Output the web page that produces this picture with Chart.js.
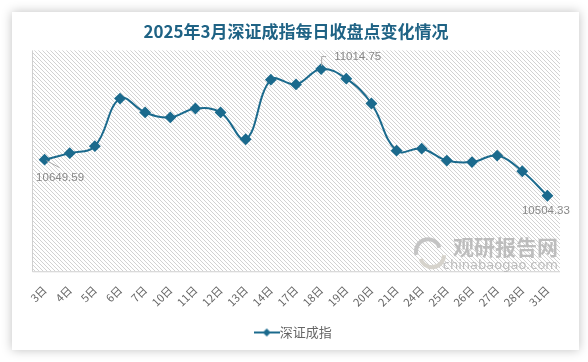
<!DOCTYPE html>
<html>
<head>
<meta charset="utf-8">
<script src="https://cdn.jsdelivr.net/npm/chart.js@4.4.1/dist/chart.umd.min.js"></script>
<style>
html, body { margin: 0; padding: 0; background: #fff; }
#card { position: absolute; left: 12px; top: 12px; width: 567px; height: 338px; background: #fff; box-shadow: 0 0 10px rgba(0,0,0,0.25); }
#wrap { position: absolute; left: 0; top: 0; width: 588px; height: 362px; }
</style>
</head>
<body>
<div id="card"></div>
<div id="wrap"><canvas id="c" width="588" height="362"></canvas></div>
<script>
// days of March 2025 (trading days)
const days = ['3日','4日','5日','6日','7日','10日','11日','12日','13日','14日','17日','18日','19日','20日','21日','24日','25日','26日','27日','28日','31日'];
// closing points
const closes = [10649.59, 10676, 10704, 10896, 10840, 10820, 10856, 10840, 10732, 10972, 10953, 11014.75, 10976, 10876, 10686, 10694, 10646, 10640, 10666, 10603, 10504.33];
const seriesName = '深证成指';
const titleText = '2025年3月深证成指每日收盘点变化情况';

const lineColor = '#1b6a8d';
const fontFam = '"Noto Sans CJK SC", "Liberation Sans", sans-serif';

// hatch pattern for the plot background
function makeHatch() {
  const p = document.createElement('canvas');
  p.width = 4; p.height = 4;
  const g = p.getContext('2d');
  g.fillStyle = '#d2d2d2';
  for (let i = 0; i < 4; i++) g.fillRect(i, i, 1, 1);
  return p;
}

// legend icon: short line with a diamond
function makeLegendIcon() {
  const p = document.createElement('canvas');
  p.width = 26; p.height = 10;
  const g = p.getContext('2d');
  g.strokeStyle = lineColor; g.lineWidth = 2;
  g.beginPath(); g.moveTo(0, 5); g.lineTo(26, 5); g.stroke();
  g.fillStyle = lineColor;
  g.beginPath(); g.moveTo(13, 1); g.lineTo(17, 5); g.lineTo(13, 9); g.lineTo(9, 5); g.closePath(); g.fill();
  return p;
}

const plotBg = {
  id: 'plotBg',
  beforeDatasetsDraw(chart) {
    const { ctx, chartArea: a } = chart;
    ctx.save();
    ctx.fillStyle = ctx.createPattern(makeHatch(), 'repeat');
    ctx.fillRect(a.left, a.top, a.right - a.left, a.bottom - a.top);
    ctx.strokeStyle = '#cfcfcf'; ctx.lineWidth = 1;
    ctx.beginPath();
    ctx.moveTo(a.left + 0.5, a.top); ctx.lineTo(a.left + 0.5, a.bottom + 0.5);
    ctx.lineTo(a.right, a.bottom + 0.5);
    ctx.stroke();

    // watermark
    const wx = a.right - 2, wy = a.bottom;
    ctx.fillStyle = '#bdbdbd';
    ctx.font = 'bold 21px ' + fontFam;
    ctx.textAlign = 'right'; ctx.textBaseline = 'middle';
    ctx.fillText('观研报告网', wx, wy - 24);
    ctx.font = '13px "DejaVu Sans", sans-serif';
    ctx.fillText('chinabaogao.com', wx, wy - 6);
    ctx.strokeStyle = '#c4c4c4'; ctx.lineWidth = 4;
    ctx.beginPath(); ctx.arc(wx - 130, wy - 20, 12, Math.PI * 0.9, Math.PI * 1.9); ctx.stroke();
    ctx.strokeStyle = '#d6d3cc';
    ctx.beginPath(); ctx.arc(wx - 126, wy - 16, 12, Math.PI * 0.0, Math.PI * 0.9); ctx.stroke();
    ctx.restore();
  }
};

const pointLabels = {
  id: 'pointLabels',
  afterDatasetsDraw(chart) {
    const ctx = chart.ctx;
    const pts = chart.getDatasetMeta(0).data;
    const maxIdx = closes.indexOf(Math.max(...closes));
    const last = closes.length - 1;
    ctx.save();
    ctx.font = '11.5px "Liberation Sans", Arial, sans-serif';
    ctx.fillStyle = '#888';
    ctx.strokeStyle = '#aaa';
    ctx.lineWidth = 1;
    ctx.textBaseline = 'middle';

    let p = pts[0];
    ctx.beginPath(); ctx.moveTo(p.x + 2, p.y + 1); ctx.lineTo(p.x + 15, p.y + 8); ctx.stroke();
    ctx.textAlign = 'center';
    ctx.fillText(closes[0].toFixed(2), p.x + 15.5, p.y + 18);

    p = pts[maxIdx];
    ctx.beginPath(); ctx.moveTo(p.x + 0.5, p.y - 3); ctx.lineTo(p.x + 0.5, p.y - 12.5); ctx.lineTo(p.x + 5, p.y - 12.5); ctx.stroke();
    ctx.textAlign = 'left';
    ctx.fillText(closes[maxIdx].toFixed(2), p.x + 13, p.y - 12);

    p = pts[last];
    ctx.textAlign = 'center';
    ctx.fillText(closes[last].toFixed(2), p.x - 1.5, p.y + 15);
    ctx.restore();
  }
};

const legendIcon = makeLegendIcon();

new Chart(document.getElementById('c'), {
  type: 'line',
  data: {
    labels: days,
    datasets: [{
      label: seriesName,
      data: closes,
      borderColor: lineColor,
      backgroundColor: lineColor,
      borderWidth: 2,
      tension: 0.4,
      pointStyle: 'rectRot',
      pointRadius: 4.5,
      pointBackgroundColor: lineColor,
      pointBorderColor: lineColor
    }]
  },
  options: {
    responsive: false,
    animation: false,
    layout: { padding: { left: 32, right: 28, top: 0, bottom: 13 } },
    scales: {
      x: {
        offset: true,
        grid: { display: false, drawTicks: false },
        border: { display: false },
        afterFit(scale) { scale.height -= 5; },
        ticks: {
          color: '#666',
          font: { size: 11, family: fontFam },
          minRotation: 45,
          maxRotation: 45,
          autoSkip: false,
          padding: 12
        }
      },
      y: {
        display: false,
        min: 10200,
        max: 11090
      }
    },
    plugins: {
      title: {
        display: true,
        text: titleText,
        color: '#1f6385',
        font: { size: 17, weight: 'bold', family: fontFam },
        padding: { top: 21, bottom: 9 }
      },
      legend: {
        position: 'bottom',
        labels: {
          color: '#666',
          font: { size: 13, family: fontFam },
          usePointStyle: true,
          generateLabels(chart) {
            const items = Chart.defaults.plugins.legend.labels.generateLabels(chart);
            items.forEach(it => { it.pointStyle = legendIcon; });
            return items;
          }
        }
      },
      tooltip: { enabled: false }
    }
  },
  plugins: [plotBg, pointLabels]
});
</script>
</body>
</html>
